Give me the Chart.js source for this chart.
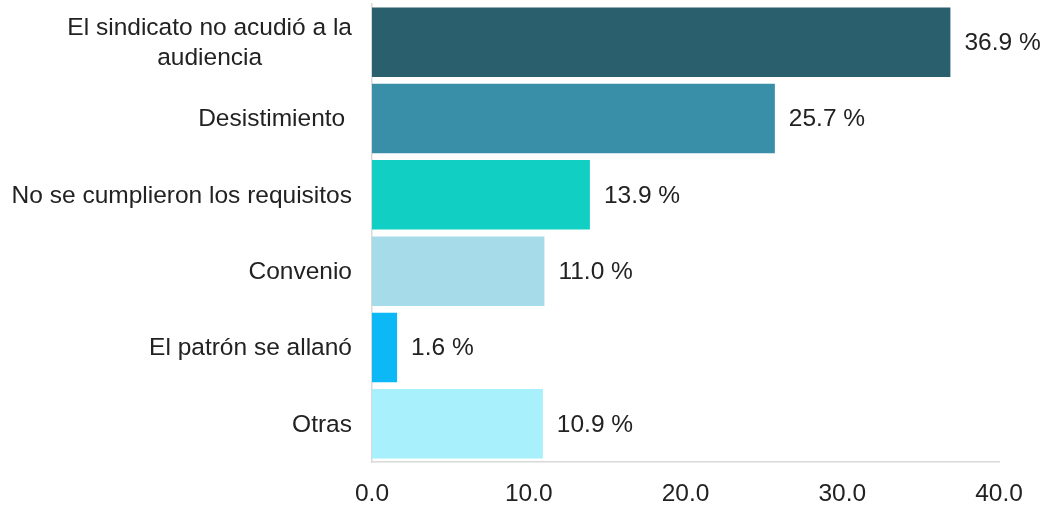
<!DOCTYPE html>
<html>
<head>
<meta charset="utf-8">
<script src="https://cdn.jsdelivr.net/npm/chart.js@4"></script>
<style>
  html, body { margin: 0; padding: 0; background: #fff; }
  #wrap { width: 1045px; height: 508px; }
</style>
</head>
<body>
<div id="wrap"><canvas id="chart"></canvas></div>
<script>
// ===== Data =====
const categories = [
  ["El sindicato no acudió a la", "audiencia"],
  "Desistimiento ",
  "No se cumplieron los requisitos",
  "Convenio",
  "El patrón se allanó",
  "Otras"
];
const values = [36.9, 25.7, 13.9, 11.0, 1.6, 10.9];
const barColors = ["#2a5f6e", "#3a8fa8", "#12cfc4", "#a6dbea", "#0cb8f5", "#a8f0fb"];
const xTicks = [0, 10, 20, 30, 40];

const FONT = "'Liberation Sans', Arial, sans-serif";
const FONT_SIZE = 24.5;
const TEXT_COLOR = "#222222";
const AXIS_COLOR = "#d9d9d9";

// ===== Category labels (centered lines for multi-line labels) =====
const categoryLabels = {
  id: "categoryLabels",
  afterDraw(chart) {
    const { ctx, scales: { y } } = chart;
    const right = chart.chartArea.left - 20;
    const lh = FONT_SIZE * 1.2;
    ctx.save();
    ctx.font = `${FONT_SIZE}px ${FONT}`;
    ctx.fillStyle = TEXT_COLOR;
    ctx.textBaseline = "middle";
    categories.forEach((label, i) => {
      const yc = y.getPixelForValue(i) + 1;
      if (Array.isArray(label)) {
        const w = Math.max(...label.map(l => ctx.measureText(l).width));
        const cx = right - w / 2;
        ctx.textAlign = "center";
        label.forEach((line, j) => {
          ctx.fillText(line, cx, yc + (j - (label.length - 1) / 2) * lh);
        });
      } else {
        ctx.textAlign = "right";
        ctx.fillText(label, right, yc);
      }
    });
    ctx.restore();
  }
};

// ===== Value labels =====
const valueLabels = {
  id: "valueLabels",
  afterDatasetsDraw(chart) {
    const { ctx } = chart;
    const meta = chart.getDatasetMeta(0);
    ctx.save();
    ctx.font = `${FONT_SIZE}px ${FONT}`;
    ctx.fillStyle = TEXT_COLOR;
    ctx.textAlign = "left";
    ctx.textBaseline = "middle";
    meta.data.forEach((bar, i) => {
      ctx.fillText(`${values[i].toFixed(1)} %`, bar.x + 14, bar.y + 1);
    });
    ctx.restore();
  }
};

// ===== Chart =====
new Chart(document.getElementById("chart"), {
  type: "bar",
  data: {
    labels: categories,
    datasets: [{
      data: values,
      backgroundColor: barColors,
      borderWidth: 0,
      categoryPercentage: 1,
      barPercentage: 0.91
    }]
  },
  options: {
    indexAxis: "y",
    responsive: true,
    maintainAspectRatio: false,
    animation: false,
    layout: { padding: { left: 0, right: 46, top: 4, bottom: 0 } },
    plugins: {
      legend: { display: false },
      tooltip: { enabled: false }
    },
    scales: {
      x: {
        min: 0,
        max: 40,
        afterBuildTicks: (axis) => { axis.ticks = xTicks.map(v => ({ value: v })); },
        grid: { display: false },
        border: { display: true, color: AXIS_COLOR, width: 1.5 },
        ticks: {
          color: TEXT_COLOR,
          font: { family: FONT, size: FONT_SIZE },
          padding: 10,
          maxRotation: 0,
          callback: (v) => Number(v).toFixed(1)
        },
        afterFit: (axis) => { axis.height = 46; }
      },
      y: {
        grid: { display: false },
        border: { display: true, color: AXIS_COLOR, width: 1.5 },
        ticks: { display: false },
        afterFit: (axis) => { axis.width = 372; }
      }
    }
  },
  plugins: [categoryLabels, valueLabels]
});
</script>
</body>
</html>
